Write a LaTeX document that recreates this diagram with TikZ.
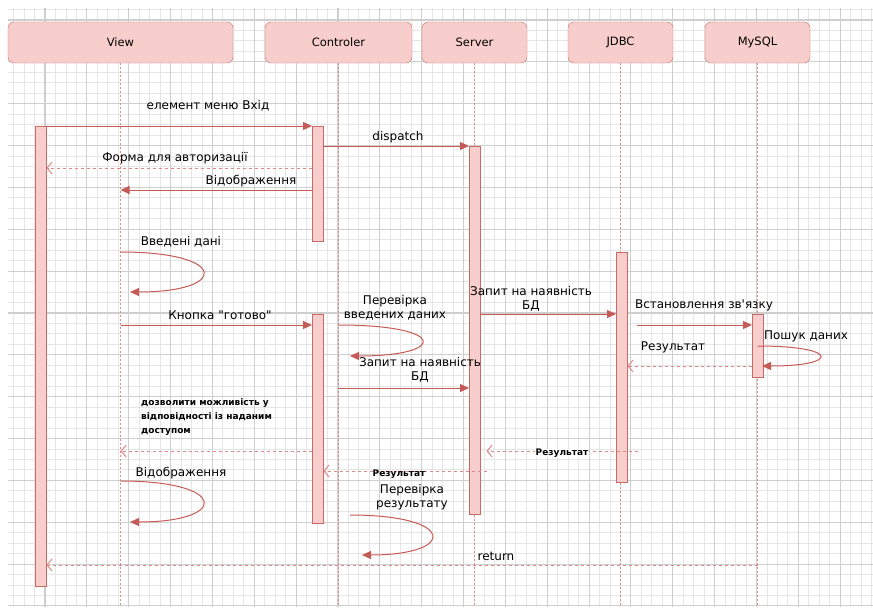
\documentclass[tikz,border=0pt]{standalone}
\usepackage{fontspec}
\setmainfont{DejaVu Sans}[Ligatures=TeXOff]
\usetikzlibrary{arrows.meta}

\definecolor{lanefill}{HTML}{F8CECC}
\definecolor{laneline}{HTML}{C86B67}
\definecolor{msgline}{HTML}{C65A56}
\definecolor{retline}{HTML}{E08A88}
\definecolor{gridmajor}{HTML}{CFCFCF}
\definecolor{gridminor}{HTML}{E6E6E6}

\tikzset{
  head/.style={draw=laneline, fill=lanefill, rounded corners=6pt, minimum height=41pt, inner sep=0pt, font=\fontsize{11.5}{13}\selectfont},
  actbar/.style={draw=laneline, fill=lanefill, minimum width=11pt, inner sep=0pt, anchor=north west},
  life/.style={draw=retline, line width=1pt, dash pattern=on 2pt off 2pt},
  msg/.style={draw=msgline, line width=1pt, -{Triangle[length=9pt,width=8pt]}},
  ret/.style={draw=retline, line width=1pt, dash pattern=on 3pt off 3pt, -{Straight Barb[length=5pt,width=12pt]}},
  lbl/.style={inner sep=0pt, font=\fontsize{12}{14}\selectfont, align=center},
  tiny lbl/.style={inner sep=0pt, font=\fontsize{9}{14}\bfseries\selectfont, align=left},
}

\begin{document}
\begin{tikzpicture}[x=1pt, y=-1pt]
    \useasboundingbox (0,0) rectangle (873,608);
    %% grid
    \foreach \i in {0,...,82}{
    \draw[gridminor, line width=0.8pt] ({13.6+\i*10.4625},8) -- ({13.6+\i*10.4625},607);
    }
    \foreach \j in {0,...,57}{
    \draw[gridminor, line width=0.8pt] (8,{9.5+\j*10.4625}) -- (873,{9.5+\j*10.4625});
    }
    \foreach \i in {0,...,19}{
    \draw[gridmajor, line width=1.1pt] ({45+\i*41.85},8) -- ({45+\i*41.85},607);
    }
    \foreach \j in {0,...,14}{
    \draw[gridmajor, line width=1.1pt] (8,{20+\j*41.85}) -- (873,{20+\j*41.85});
    }

    %% heads
    \node[head, minimum width=225pt] (view) at (120.5,42.5) {View};
    \node[head, minimum width=147pt] (ctl) at (338.5,42.5) {Controler};
    \node[head, minimum width=105pt] (srv) at (474.5,42.5) {Server};
    \node[head, minimum width=105pt] (jdbc) at (620.5,42.5) {JDBC};
    \node[head, minimum width=105pt] (mysql) at (757.5,42.5) {MySQL};

    %% lifelines
    \draw[life] (view.south) -- (view.south |- 0,606);
    \draw[life] (ctl.south) -- (ctl.south |- 0,606);
    \draw[life] (srv.south) -- (srv.south |- 0,606);
    \draw[life] (jdbc.south) -- (jdbc.south |- 0,606);
    \draw[life] (mysql.south) -- (mysql.south |- 0,606);

    %% activations
    \node[actbar, minimum height=460pt] (vbar) at (35,126) {};
    \node[actbar, minimum height=115pt] (cbarA) at (312,126) {};
    \node[actbar, minimum height=209pt] (cbarB) at (312,314) {};
    \node[actbar, minimum height=368pt] (sbar) at (469,146) {};
    \node[actbar, minimum height=230pt] (jbar) at (616,252) {};
    \node[actbar, minimum height=63pt] (mbar) at (752,314) {};

    %% login
    \draw[msg] (vbar.east |- 0,126) -- (cbarA.west |- 0,126);
    \node[lbl] (menu) at (208,106) {елемент меню Вхід};
    \draw[msg] (cbarA.east |- 0,146) -- (sbar.west |- 0,146);
    \node[lbl] (disp) at (398,137) {dispatch};
    \draw[ret] (cbarA.west |- 0,168) -- (vbar.east |- 0,168);
    \node[lbl] (form) at (175,158) {Форма для авторизації};
    \draw[msg] (cbarA.west |- 0,190) -- (view.south |- 0,190);
    \node[lbl] (showA) at (251,181) {Відображення};

    %% input
    \draw[msg] (view.south |- 0,252) .. controls (229,252) and (229,292) .. (130,292);
    \node[lbl] (input) at (181,242) {Введені дані};
    \draw[msg] (view.south |- 0,325) -- (cbarB.west |- 0,325);
    \node[lbl] (btn) at (220,315) {Кнопка "готово"};
    \draw[msg] (ctl.south |- 0,325) .. controls (448,325) and (448,356) .. (350,356);
    \node[lbl] (checkA) at (395,308) {Перевірка\\введених даних};
    \draw[msg] (ctl.south |- 0,388) -- (sbar.west |- 0,388);
    \node[lbl] (askA) at (420,370) {Запит на наявність\\БД};

    %% database
    \draw[msg] (sbar.east |- 0,314) -- (jbar.west |- 0,314);
    \node[lbl] (askB) at (531,299) {Запит на наявність\\БД};
    \draw[msg] ([xshift=10pt]jbar.east |- 0,325) -- (mbar.west |- 0,325);
    \node[lbl] (conn) at (704,305) {Встановлення зв'язку};
    \draw[msg] (mysql.south |- 0,346) .. controls (840,346) and (840,366) .. (762,366);
    \node[lbl] (search) at (806,336) {Пошук даних};
    \draw[ret] (mbar.west |- 0,366) -- (jbar.east |- 0,366);
    \node[lbl] (resA) at (673,347) {Результат};

    %% answer
    \node[tiny lbl, anchor=north west] (allow) at (141,398) {дозволити можливість у\\відповідності із наданим\\доступом};
    \draw[ret] (cbarB.west |- 0,451) -- (view.south |- 0,451);
    \draw[ret] ([xshift=11pt]jbar.east |- 0,451) -- ([xshift=6pt]sbar.east |- 0,451);
    \node[tiny lbl, fill=white, inner xsep=1pt] (resB) at (562,453) {Результат};
    \draw[ret] ([xshift=7pt]sbar.east |- 0,471) -- (cbarB.east |- 0,471);
    \node[tiny lbl] (resC) at (399,474) {Результат};
    \draw[msg] (view.south |- 0,481) .. controls (229,481) and (229,522) .. (130,522);
    \node[lbl] (showB) at (181,473) {Відображення};
    \draw[msg] (350,515) .. controls (457,515) and (457,555) .. (362,555);
    \node[lbl] (checkB) at (412,497) {Перевірка\\результату};
    \draw[ret] (mysql.south |- 0,565) -- (vbar.east |- 0,565);
    \node[lbl] (back) at (496,556) {return};
\end{tikzpicture}
\end{document}
